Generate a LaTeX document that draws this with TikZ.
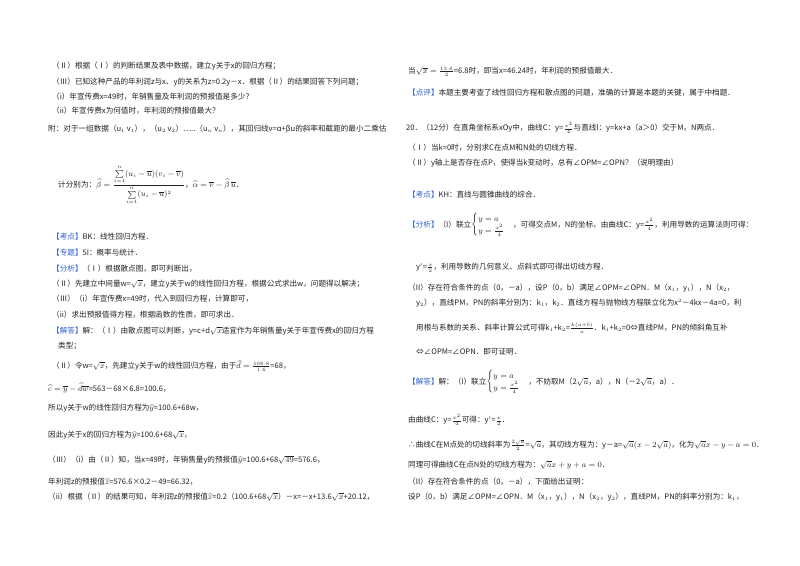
\documentclass[tikz,border=0pt]{standalone}
\usepackage{amsmath}
\usepackage{fontspec}
\setmainfont{Noto Sans CJK SC}
\definecolor{ink}{HTML}{222222}
\definecolor{tag}{HTML}{2F5FCC}
\newcommand{\tg}[1]{\textcolor{tag}{#1}}
\begin{document}
\begin{tikzpicture}[x=1pt,y=-1pt,
  t/.style={anchor=west,inner sep=0pt,text=ink,font=\fontsize{7.6}{9}\selectfont}]
\useasboundingbox[fill=white] (0,0) rectangle (800,565);
% left column
\node[t] (a1) at (52,66) {（Ⅱ）根据（Ⅰ）的判断结果及表中数据，建立y关于x的回归方程；};
\node[t] (a2) at (52,82) {（Ⅲ）已知这种产品的年利润z与x、y的关系为z=0.2y－x．根据（Ⅱ）的结果回答下列问题；};
\node[t] (a3) at (52,97) {（i）年宣传费x=49时，年销售量及年利润的预报值是多少？};
\node[t] (a4) at (52,111) {（ii）年宣传费x为何值时，年利润的预报值最大？};
\node[t] (a5) at (48,129) {附：对于一组数据（u$_1$ v$_1$），（u$_2$ v$_2$）…..（u$_n$ v$_n$），其回归线v=α+βu的斜率和截距的最小二乘估};
\node[t] (a6) at (58,185) {计分别为：$\widehat{\beta}=\dfrac{\sum\limits_{i=1}^{n}(u_i-\overline{u})(v_i-\overline{v})}{\sum\limits_{i=1}^{n}(u_i-\overline{u})^2}$，$\widehat{\alpha}=\overline{v}-\widehat{\beta}\,\overline{u}$．};
\node[t] (a7) at (52,237) {\tg{【考点】}BK：线性回归方程．};
\node[t] (a8) at (52,253) {\tg{【专题】}5I：概率与统计．};
\node[t] (a9) at (52,269) {\tg{【分析】}（Ⅰ）根据散点图，即可判断出，};
\node[t] (a10) at (52,284) {（Ⅱ）先建立中间量w=$\sqrt{x}$，建立y关于w的线性回归方程，根据公式求出w，问题得以解决；};
\node[t] (a11) at (52,299) {（Ⅲ）（i）年宣传费x=49时，代入到回归方程，计算即可，};
\node[t] (a12) at (52,315) {（ii）求出预报值得方程，根据函数的性质，即可求出．};
\node[t] (a13) at (52,331) {\tg{【解答】}解：（Ⅰ）由散点图可以判断，y=c+d$\sqrt{x}$适宜作为年销售量y关于年宣传费x的回归方程};
\node[t] (a14) at (58,346) {类型；};
\node[t] (a15) at (52,366) {（Ⅱ）令w=$\sqrt{x}$，先建立y关于w的线性回归方程，由于$\widehat{d}=\frac{108.8}{1.6}$=68，};
\node[t] (a16) at (48,388) {$\widehat{c}=\overline{y}-\widehat{d}\overline{w}$=563－68×6.8=100.6，};
\node[t] (a17) at (48,408) {所以y关于w的线性回归方程为$\widehat{y}$=100.6+68w，};
\node[t] (a18) at (48,435) {因此y关于x的回归方程为$\widehat{y}$=100.6+68$\sqrt{x}$，};
\node[t] (a19) at (48,460) {（Ⅲ）（i）由（Ⅱ）知，当x=49时，年销售量y的预报值$\widehat{y}$=100.6+68$\sqrt{49}$=576.6，};
\node[t] (a20) at (48,482) {年利润z的预报值$\widehat{z}$=576.6×0.2－49=66.32，};
\node[t] (a21) at (48,497) {（ii）根据（Ⅱ）的结果可知，年利润z的预报值$\widehat{z}$=0.2（100.6+68$\sqrt{x}$）－x=－x+13.6$\sqrt{x}$+20.12，};
% right column
\node[t] (b1) at (408,72) {当$\sqrt{x}=\frac{13.6}{2}$=6.8时，即当x=46.24时，年利润的预报值最大．};
\node[t] (b2) at (408,93) {\tg{【点评】}本题主要考查了线性回归方程和散点图的问题，准确的计算是本题的关键，属于中档题．};
\node[t] (b3) at (406,128) {20．（12分）在直角坐标系xOy中，曲线C：y=$\frac{x^2}{4}$与直线l：y=kx+a（a＞0）交于M，N两点．};
\node[t] (b4) at (408,148) {（Ⅰ）当k=0时，分别求C在点M和N处的切线方程．};
\node[t] (b5) at (408,163) {（Ⅱ）y轴上是否存在点P，使得当k变动时，总有∠OPM=∠OPN？（说明理由）};
\node[t] (b6) at (408,195) {\tg{【考点】}KH：直线与圆锥曲线的综合．};
\node[t] (b7) at (408,225) {\tg{【分析】}（I）联立$\begin{cases}y=a\\ y=\frac{x^2}{4}\end{cases}$，可得交点M，N的坐标，由曲线C：y=$\frac{x^2}{4}$，利用导数的运算法则可得：};
\node[t] (b8) at (416,268) {y$'$=$\frac{x}{2}$，利用导数的几何意义、点斜式即可得出切线方程．};
\node[t] (b9) at (408,288) {（II）存在符合条件的点（0，－a），设P（0，b）满足∠OPM=∠OPN．M（x$_1$，y$_1$），N（x$_2$，};
\node[t] (b10) at (416,303) {y$_2$），直线PM，PN的斜率分别为：k$_1$，k$_2$．直线方程与抛物线方程联立化为x$^2$－4kx－4a=0，利};
\node[t] (b11) at (416,328) {用根与系数的关系、斜率计算公式可得k$_1$+k$_2$=$\frac{k(a+b)}{a}$．k$_1$+k$_2$=0⇔直线PM，PN的倾斜角互补};
\node[t] (b12) at (416,352) {⇔∠OPM=∠OPN．即可证明．};
\node[t] (b13) at (408,382) {\tg{【解答】}解：（I）联立$\begin{cases}y=a\\ y=\frac{x^2}{4}\end{cases}$，不妨取M（2$\sqrt{a}$，a），N（－2$\sqrt{a}$，a）．};
\node[t] (b14) at (408,420) {由曲线C：y=$\frac{x^2}{4}$可得：y$'$=$\frac{x}{2}$．};
\node[t] (b15) at (408,445) {∴曲线C在M点处的切线斜率为$\frac{2\sqrt{a}}{2}$=$\sqrt{a}$，其切线方程为：y－a=$\sqrt{a}(x-2\sqrt{a})$，化为$\sqrt{a}x-y-a=0$．};
\node[t] (b16) at (408,465) {同理可得曲线C在点N处的切线方程为：$\sqrt{a}x+y+a=0$．};
\node[t] (b17) at (408,482) {（II）存在符合条件的点（0，－a），下面给出证明：};
\node[t] (b18) at (408,497) {设P（0，b）满足∠OPM=∠OPN．M（x$_1$，y$_1$），N（x$_2$，y$_2$），直线PM，PN的斜率分别为：k$_1$，};
\end{tikzpicture}
\end{document}
